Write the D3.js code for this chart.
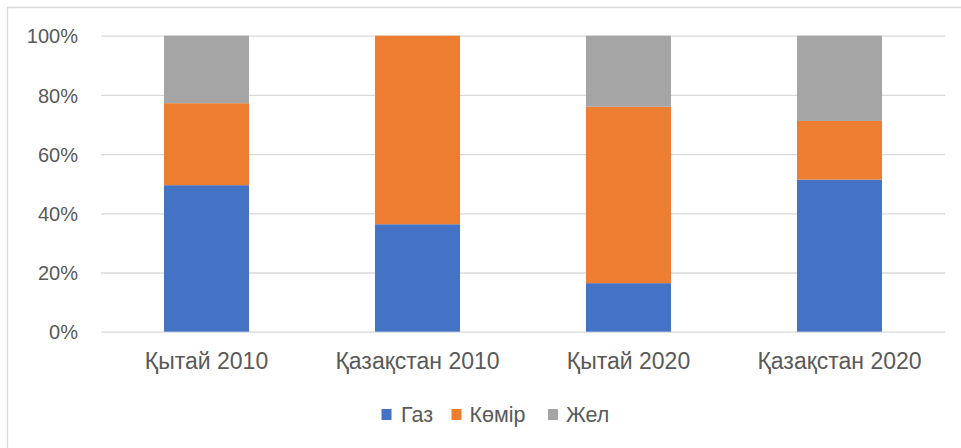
<!DOCTYPE html>
<html>
<head>
<meta charset="utf-8">
<script src="https://cdn.jsdelivr.net/npm/d3@7"></script>
<style>
  body { margin: 0; background: #fff; }
  svg { display: block; font-family: "Liberation Sans", Arial, sans-serif; }
  .grid line { stroke: #d9d9d9; stroke-width: 1.3; }
  .grid path { display: none; }
  .tick text { fill: #595959; font-size: 20px; }
  .x-axis .tick text { font-size: 23px; }
</style>
</head>
<body>
<svg class="chart" width="961" height="448"></svg>
<script>
var categories = ["Қытай 2010", "Қазақстан 2010", "Қытай 2020", "Қазақстан 2020"];
var seriesNames = ["Газ", "Көмір", "Жел"];
var gas = [49.5, 36.3, 16.4, 51.4];
var coal = [27.7, 63.7, 59.6, 19.8];
var wind = [22.8, 0, 24.0, 28.8];
var yTicks = [0, 0.2, 0.4, 0.6, 0.8, 1];
var colors = ["#4472c4", "#ed7d31", "#a5a5a5"];

var width = 961, height = 448;
var margin = {top: 35.7, right: 16, bottom: 116.3, left: 101};
var plotW = width - margin.left - margin.right,
    plotH = height - margin.top - margin.bottom;

var rows = categories.map(function(c, i) {
  return {cat: c, "Газ": gas[i], "Көмір": coal[i], "Жел": wind[i]};
});

var stack = d3.stack().keys(seriesNames).offset(d3.stackOffsetExpand);
var layers = stack(rows);

var x = d3.scaleBand()
    .domain(categories)
    .range([0, plotW])
    .paddingInner(0.597)
    .paddingOuter(0.2985);

var y = d3.scaleLinear()
    .domain([0, 1])
    .range([plotH, 0]);

var svg = d3.select("svg.chart");

// chart area border (left and top only visible)
svg.append("path")
  .attr("d", "M7.5,448 V7.5 H961")
  .attr("fill", "none")
  .attr("stroke", "#d9d9d9")
  .attr("stroke-width", 1.3);

var g = svg.append("g")
  .attr("transform", "translate(" + margin.left + "," + margin.top + ")");

// y gridlines + labels
g.append("g")
  .attr("class", "grid")
  .call(d3.axisLeft(y)
    .tickValues(yTicks)
    .tickSize(-plotW)
    .tickPadding(23)
    .tickFormat(d3.format(".0%")))
  .call(function(s) {
    s.selectAll(".tick line").attr("x1", 0).attr("x2", plotW);
    s.selectAll(".tick text").attr("dy", "0.36em");
  });

g.selectAll(".layer")
  .data(layers)
  .enter().append("g")
  .attr("class", "layer")
  .attr("fill", function(d, i) { return colors[i]; })
  .selectAll("rect")
  .data(function(d) { return d; })
  .enter().append("rect")
  .attr("x", function(d) { return x(d.data.cat); })
  .attr("width", x.bandwidth())
  .attr("y", function(d) { return y(d[1]); })
  .attr("height", function(d) { return y(d[0]) - y(d[1]); });

// x axis labels
var xAxis = g.append("g")
  .attr("class", "x-axis")
  .attr("transform", "translate(0," + plotH + ")")
  .call(d3.axisBottom(x).tickSize(0).tickPadding(0));
xAxis.select(".domain").remove();
xAxis.selectAll(".tick text")
  .attr("dy", 0)
  .attr("y", 37.5);

// legend
var legendItems = [
  {name: seriesNames[0], x: 381.5, tx: 401},
  {name: seriesNames[1], x: 451.5, tx: 469.5},
  {name: seriesNames[2], x: 548, tx: 566}
];
var legend = svg.append("g").attr("class", "legend");
legend.selectAll("rect")
  .data(legendItems)
  .enter().append("rect")
  .attr("x", function(d) { return d.x; })
  .attr("y", 409)
  .attr("width", 10)
  .attr("height", 11)
  .attr("fill", function(d, i) { return colors[i]; });
legend.selectAll("text")
  .data(legendItems)
  .enter().append("text")
  .attr("x", function(d) { return d.tx; })
  .attr("y", 421.5)
  .attr("fill", "#595959")
  .style("font-size", "21.5px")
  .text(function(d) { return d.name; });
</script>
</body>
</html>
